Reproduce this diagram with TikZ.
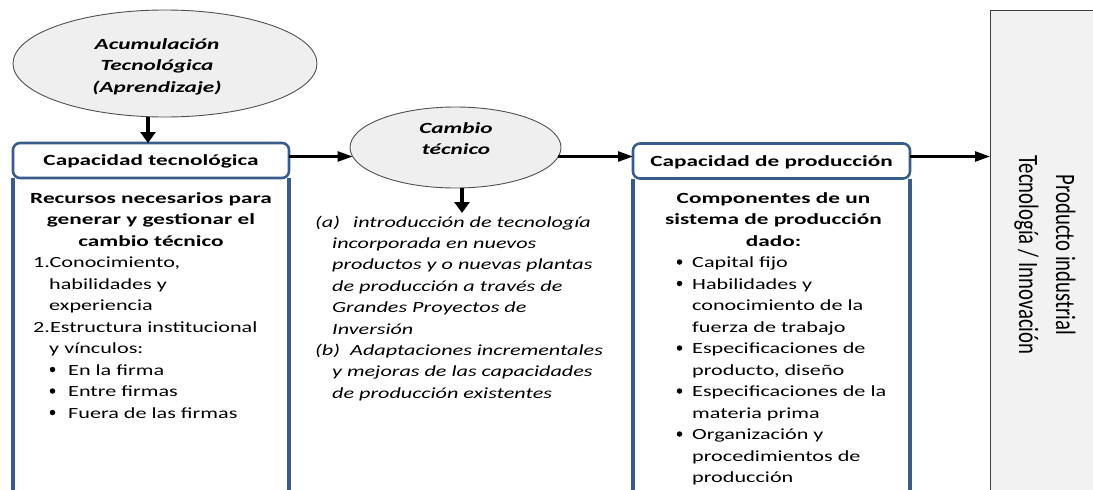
\documentclass[tikz,border=0pt]{standalone}
\usepackage{fontspec}
\setmainfont{Carlito}[FakeStretch=1.43]
\newfontfamily\boldfam{Carlito}[FakeStretch=1.5]
\newfontfamily\rotfont{Carlito}[FakeStretch=0.74]
\usetikzlibrary{shapes.geometric,arrows.meta}
\definecolor{boxblue}{RGB}{56,93,138}
\definecolor{ellfill}{RGB}{239,239,239}
\definecolor{ellline}{RGB}{80,80,80}
\definecolor{prodfill}{RGB}{242,242,242}
\newcommand\mainsz{\fontsize{15.5pt}{21.5pt}\selectfont}
\tikzset{
  txt/.style={inner sep=0pt, anchor=base west, font=\mainsz},
  itxt/.style={txt, font=\mainsz\itshape},
  ctxt/.style={inner sep=0pt, anchor=base, font=\mainsz\boldfam\bfseries},
  etxt/.style={inner sep=0pt, anchor=base, font=\mainsz\boldfam\bfseries\itshape},
  bul/.style={circle, fill=black, inner sep=0pt, minimum size=5.5pt},
  ell/.style={ellipse, draw=ellline, fill=ellfill, line width=0.9pt, inner sep=0pt, outer sep=0pt},
  headbox/.style={rectangle, rounded corners=7pt, draw=boxblue, line width=2.6pt, fill=white,
    minimum height=35pt, inner sep=0pt, outer sep=0pt, text height=13pt, text depth=3pt, font=\mainsz\boldfam\bfseries},
  boxline/.style={draw=boxblue, line width=3.2pt},
  harr/.style={line width=2.5pt, -{Triangle[length=15pt,width=10pt]}},
  varr/.style={line width=3.4pt, -{Triangle[length=11pt,width=15pt]}},
}
\begin{document}
\begin{tikzpicture}[x=1pt,y=-1pt]
\useasboundingbox (0,0) rectangle (1093,490);

% right grey box
\node[rectangle, draw=black!75, fill=prodfill, line width=1pt, rotate=-90,
      minimum width=490pt, minimum height=110pt, inner sep=0pt, outer sep=0pt, align=center,
      font=\rotfont\fontsize{28pt}{37pt}\selectfont] (prod) at (1045,255)
      {Producto industrial\\Tecnología / Innovación};

% ellipses
\node[ell, minimum width=304pt, minimum height=107pt] (acum) at (165,63.5) {};
\foreach \t [count=\i] in {Acumulación, Tecnológica, (Aprendizaje)}
  \node[etxt] (acumt\i) at (157, 27.5+\i*21.5) {\t};

\node[ell, minimum width=211pt, minimum height=81pt] (cambio) at (455.5,147.5) {};
\node[etxt] (cambiot1) at (456,133) {Cambio};
\node[etxt] (cambiot2) at (456,154.5) {técnico};

% left box
\node[headbox, minimum width=276pt] (capT) at (151,160.5) {Capacidad tecnológica};
\draw[boxline] (capT.south west) -- ++(0,330);
\draw[boxline] (capT.south east) -- ++(0,330);
\foreach \t [count=\i] in {Recursos necesarios para, generar y gestionar el, cambio técnico}
  \node[ctxt] (lb\i) at (151, 181.5+\i*21.5) {\t};
\foreach \x/\y/\t [count=\i] in {33/267.5/{1.Conocimiento,}, 49/289/{habilidades y}, 49/310.5/{experiencia},
    33/332/{2.Estructura institucional}, 49/353.5/{y vínculos:}, 68/375/{En la firma},
    68/396.5/{Entre firmas}, 68/418/{Fuera de las firmas}}
  \node[txt] (ll\i) at (\x,\y) {\t};
\foreach \y [count=\i] in {375,396.5,418}
  \node[bul] (lbul\i) at (52.5,\y-5.5) {};

% right box
\node[headbox, minimum width=277pt] (capP) at (771.5,161) {Capacidad de producción};
\draw[boxline] (capP.south west) -- ++(0,330);
\draw[boxline] (capP.south east) -- ++(0,330);
\foreach \t [count=\i] in {Componentes de un, sistema de producción, dado:}
  \node[ctxt] (rb\i) at (773.5, 181.5+\i*21.5) {\t};
\foreach \t [count=\i] in {Capital fijo, Habilidades y, conocimiento de la, fuerza de trabajo,
    Especificaciones de, {producto, diseño}, Especificaciones de la, materia prima,
    Organización y, procedimientos de, producción}
  \node[txt] (rl\i) at (692, 246+\i*21.5) {\t};
\foreach \y [count=\i] in {267.5,289,353.5,396.5,439.5}
  \node[bul] (rbul\i) at (679.5,\y-5.5) {};

% middle italic text
\node[itxt] (ma) at (315,227) {(a)};
\node[itxt] (ma1) at (353,227) {introducción de tecnología};
\foreach \t [count=\i] in {incorporada en nuevos, productos y o nuevas plantas, de producción a través de,
    Grandes Proyectos de, Inversión}
  \node[itxt] (mat\i) at (332, 227+\i*21.4) {\t};
\node[itxt] (mb) at (315,355.4) {(b)};
\node[itxt] (mb1) at (350,355.4) {Adaptaciones incrementales};
\node[itxt] (mb2) at (332,376.8) {y mejoras de las capacidades};
\node[itxt] (mb3) at (332,398.2) {de producción existentes};

% connectors
\coordinate (aA) at (148,143);
\draw[varr] (aA |- acum.south) -- (aA);
\draw[harr] (capT.east |- cambio.185.3) -- (cambio.185.3);
\draw[harr] (cambio.-5.3) -- (capP.west |- cambio.-5.3);
\draw[harr] (capP.east |- cambio.-5.3) -- (prod.south |- cambio.-5.3);
\coordinate (dA) at (462,213);
\draw[varr] (dA |- cambio.south) -- (dA);
\end{tikzpicture}
\end{document}
